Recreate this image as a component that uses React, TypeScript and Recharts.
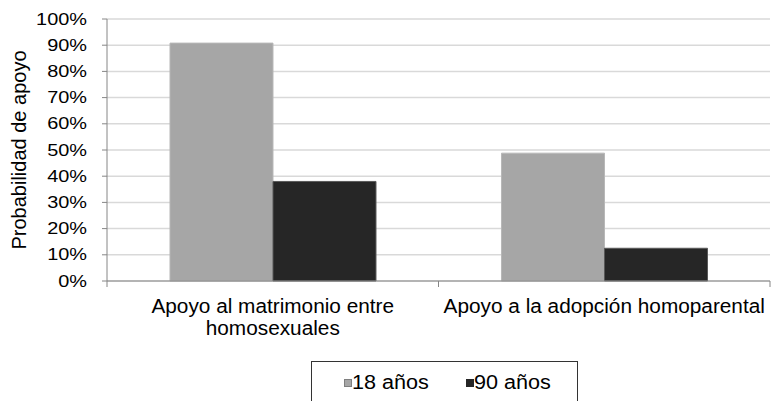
import React from "react"
import { Bar, BarChart, CartesianGrid, Legend, XAxis, YAxis } from "recharts"

const categories = ["Apoyo al matrimonio entre\nhomosexuales", "Apoyo a la adopción homoparental"]
const seriesNames = ["18 años", "90 años"]
const age18 = [0.908, 0.488]
const age90 = [0.38, 0.125]
const yTicks = [0, 0.1, 0.2, 0.3, 0.4, 0.5, 0.6, 0.7, 0.8, 0.9, 1]

const colors = ["#a6a6a6", "#262626"]
const strokes = ["#b8b8b8", "#595959"]
const font = "'Liberation Sans', Arial, sans-serif"

const data = categories.map((name, i) => ({
  name,
  a18: age18[i],
  a90: age90[i],
}))

function YTick(props: any) {
  const { x, y, payload } = props
  return (
    <g transform={`translate(${x},${y})`}>
      <text
        transform="scale(1.17,1)"
        textAnchor="end"
        dy="0.33em"
        fontSize={17}
        fontFamily={font}
        fill="#000"
      >
        {Math.round(payload.value * 100) + "%"}
      </text>
    </g>
  )
}

function XTick(props: any) {
  const { x, y, payload } = props
  const half = payload.offset || 165.75
  const lines = String(payload.value).split("\n")
  return (
    <g>
      <line x1={x - half} x2={x - half} y1={y} y2={y + 6} stroke="#868686" />
      {payload.index === categories.length - 1 && (
        <line x1={x + half} x2={x + half} y1={y} y2={y + 6} stroke="#868686" />
      )}
      <g transform={`translate(${x},${y}) scale(1.04,1)`}>
        <text textAnchor="middle" fontSize={20} fontFamily={font} fill="#000">
          {lines.map((l, i) => (
            <tspan key={i} x={0} y={32 + i * 22}>
              {l}
            </tspan>
          ))}
        </text>
      </g>
    </g>
  )
}

function YLabel(props: any) {
  const { viewBox } = props
  const cx = viewBox.x + 19
  const cy = viewBox.y + viewBox.height / 2
  return (
    <text
      x={cx}
      y={cy}
      transform={`rotate(-90, ${cx}, ${cy})`}
      textAnchor="middle"
      dominantBaseline="central"
      fontSize={20}
      fontFamily={font}
      fill="#000"
    >
      Probabilidad de apoyo
    </text>
  )
}

function LegendBox() {
  const items = [
    { left: 32, name: seriesNames[0], color: colors[0], border: "#7f7f7f" },
    { left: 154, name: seriesNames[1], color: colors[1], border: "#262626" },
  ]
  return (
    <div
      style={{
        position: "relative",
        width: 267,
        height: 50,
        border: "1px solid #333",
        boxSizing: "border-box",
        background: "#fff",
        fontFamily: font,
      }}
    >
      {items.map((it) => (
        <div
          key={it.name}
          style={{ position: "absolute", left: it.left, top: 9, height: 23, display: "flex", alignItems: "center" }}
        >
          <span
            style={{
              width: 8,
              height: 8,
              background: it.color,
              border: `1px solid ${it.border}`,
              boxSizing: "border-box",
              display: "inline-block",
            }}
          />
          <span
            style={{
              fontSize: 20,
              lineHeight: "23px",
              marginLeft: 0,
              display: "inline-block",
              transform: "scaleX(1.08)",
              transformOrigin: "left center",
              color: "#000",
              whiteSpace: "nowrap",
            }}
          >
            {it.name}
          </span>
        </div>
      ))}
    </div>
  )
}

export default function App() {
  return (
    <div style={{ position: "absolute", left: 0, top: 0, width: 771, height: 401, background: "#fff", overflow: "hidden" }}>
      <BarChart
        width={771}
        height={401}
        data={data}
        margin={{ top: 19, right: 1, bottom: 0, left: 0 }}
        barCategoryGap="19%"
        barGap={0}
      >
        <CartesianGrid vertical={false} stroke="#d9d9d9" strokeWidth={1.5} />
        <XAxis
          dataKey="name"
          height={120}
          tickLine={false}
          tickSize={0}
          tickMargin={0}
          stroke="#868686"
          tick={<XTick />}
          interval={0}
        />
        <YAxis
          width={107}
          domain={[0, 1]}
          ticks={yTicks}
          interval={0}
          tickSize={5}
          tickMargin={15}
          stroke="#868686"
          tick={<YTick />}
          label={<YLabel />}
        />
        <Legend
          layout="horizontal"
          verticalAlign="middle"
          align="center"
          content={() => <LegendBox />}
          wrapperStyle={{ left: 311, top: 361, width: 267, height: 50 }}
        />
        <Bar dataKey="a18" name={seriesNames[0]} fill={colors[0]} stroke={strokes[0]} isAnimationActive={false} />
        <Bar dataKey="a90" name={seriesNames[1]} fill={colors[1]} stroke={strokes[1]} isAnimationActive={false} />
      </BarChart>
    </div>
  )
}
